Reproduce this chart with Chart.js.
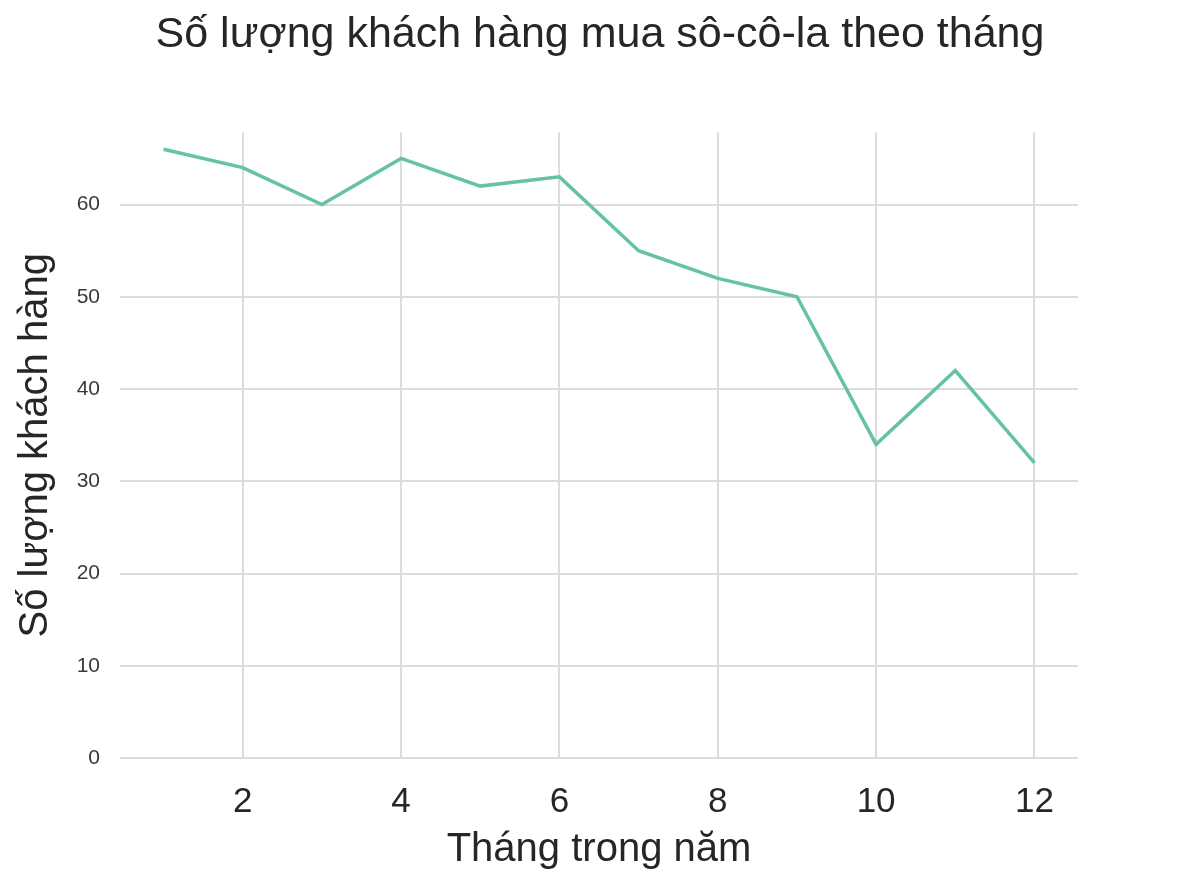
<!DOCTYPE html>
<html>
<head>
<meta charset="utf-8">
<script src="https://cdn.jsdelivr.net/npm/chart.js@4"></script>
<style>
  body { margin: 0; background: #fff; }
  #wrap { width: 1200px; height: 896px; }
</style>
</head>
<body>
<div id="wrap"><canvas id="myChart" width="1200" height="896"></canvas></div>
<script>
'use strict';
// months and customers
const months = [1, 2, 3, 4, 5, 6, 7, 8, 9, 10, 11, 12];
const customers = [66, 64, 60, 65, 62, 63, 55, 52, 50, 34, 42, 32];
const xTicks = [2, 4, 6, 8, 10, 12];
const yTicks = [0, 10, 20, 30, 40, 50, 60];

const points = months.map((m, i) => ({ x: m, y: customers[i] }));

const ctx = document.getElementById('myChart').getContext('2d');
const chart = new Chart(ctx, {
  type: 'line',
  data: {
    datasets: [{
      data: points,
      borderColor: '#66c2a5',
      borderWidth: 3.5,
      pointRadius: 0,
      tension: 0,
      fill: false
    }]
  },
  options: {
    responsive: false,
    animation: false,
    devicePixelRatio: 1,
    layout: { padding: 0 },
    plugins: {
      legend: { display: false },
      tooltip: { enabled: false },
      title: {
        display: true,
        text: 'Số lượng khách hàng mua sô-cô-la theo tháng',
        color: '#262626',
        font: { family: 'Liberation Sans', size: 43, weight: 'normal' },
        padding: { top: 9, bottom: 72 }
      }
    },
    scales: {
      x: {
        type: 'linear',
        min: 0.45,
        max: 12.55,
        afterBuildTicks: s => { s.ticks = xTicks.map(v => ({ value: v })); },
        afterFit: s => { s.height = 138; },
        grid: { color: '#dcdcdc', lineWidth: 2, drawTicks: false },
        border: { display: false },
        ticks: {
          color: '#262626',
          padding: 23,
          font: { family: 'Liberation Sans', size: 35 }
        },
        title: {
          display: true,
          text: 'Tháng trong năm',
          color: '#262626',
          font: { family: 'Liberation Sans', size: 40 },
          padding: { top: 0, bottom: 22 }
        }
      },
      y: {
        type: 'linear',
        min: 0,
        max: 67.8,
        afterBuildTicks: s => { s.ticks = yTicks.map(v => ({ value: v })); },
        afterFit: s => { s.width = 120; },
        grid: { color: '#dcdcdc', lineWidth: 2, drawTicks: false },
        border: { display: false },
        ticks: {
          color: '#3a3a3a',
          padding: 20,
          font: { family: 'Liberation Sans', size: 21 }
        },
        title: {
          display: true,
          text: 'Số lượng khách hàng',
          color: '#262626',
          font: { family: 'Liberation Sans', size: 40 },
          padding: { top: 12, bottom: 0 }
        }
      },
      // empty right-hand box so the plot ends where it does in the picture
      yRight: {
        type: 'linear',
        position: 'right',
        display: true,
        afterFit: s => { s.width = 122; },
        grid: { display: false, drawTicks: false },
        border: { display: false },
        ticks: { display: false }
      }
    }
  }
});
</script>
</body>
</html>
